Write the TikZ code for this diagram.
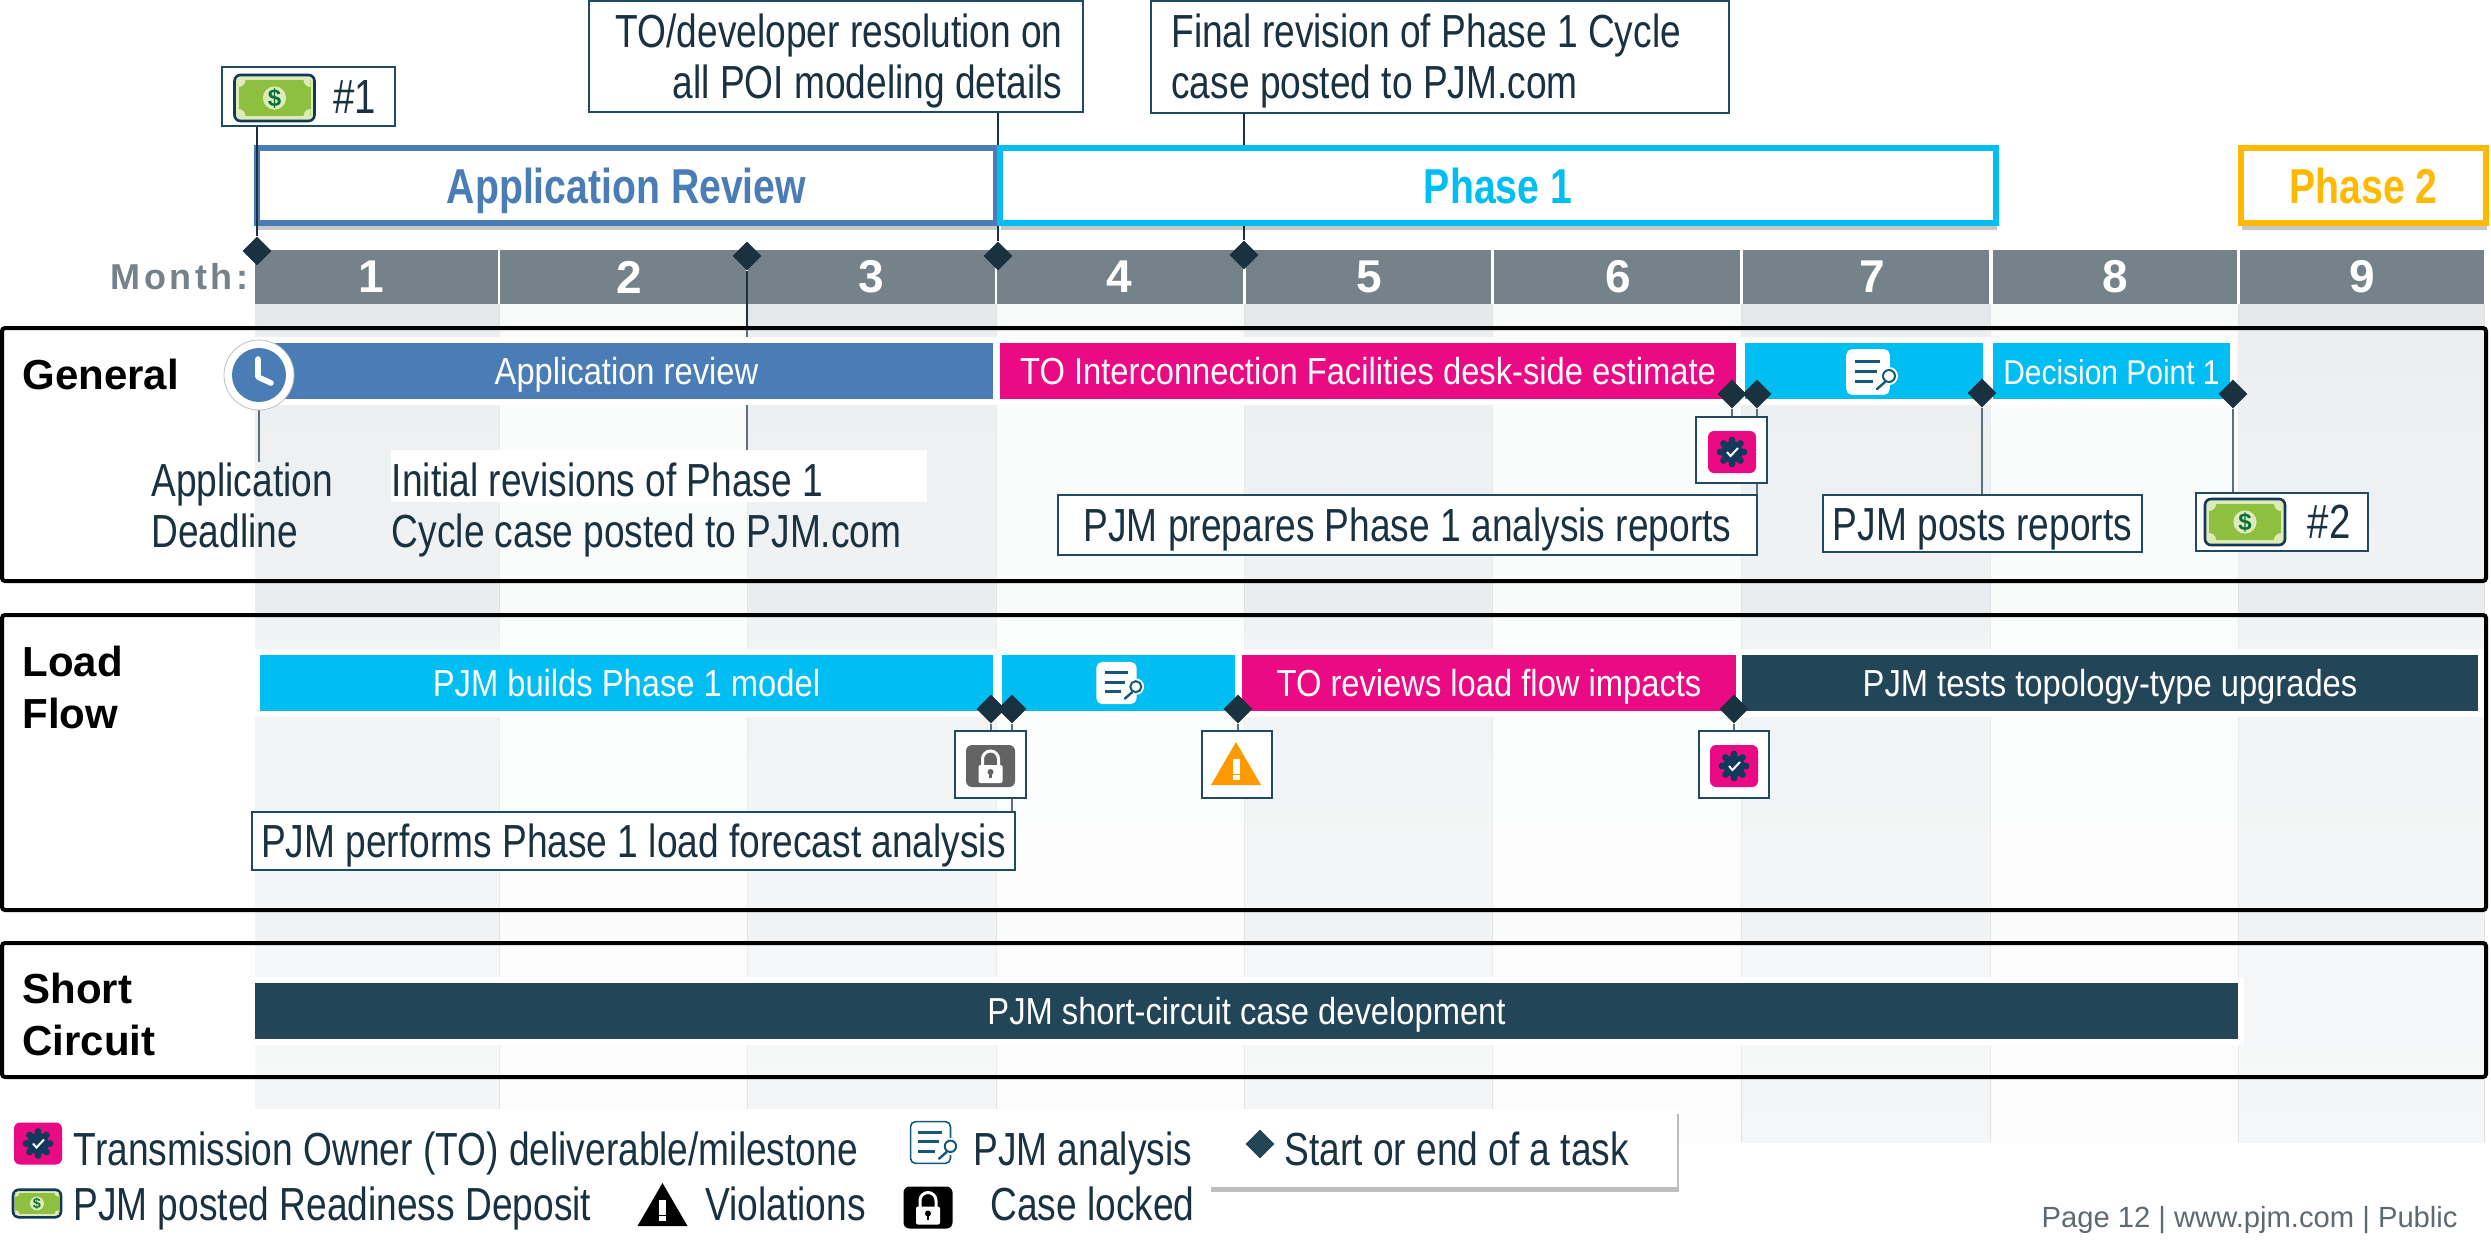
\documentclass[tikz,border=0pt]{standalone}
\usepackage{fontspec}
\setmainfont{Liberation Sans}[FakeStretch=0.8]
\newfontfamily\plainsans{Liberation Sans}
\newfontfamily\barsans{Liberation Sans}[FakeStretch=0.87]
\usetikzlibrary{shapes.geometric,shadows,backgrounds}

\definecolor{inkdark}{HTML}{1A3140}
\definecolor{monthgray}{HTML}{75828A}
\definecolor{appblue}{HTML}{4A7CB5}
\definecolor{phasecyan}{HTML}{00BDF2}
\definecolor{phaseamber}{HTML}{FFB900}
\definecolor{topink}{HTML}{E90A84}
\definecolor{pjmdark}{HTML}{234558}
\definecolor{boxedge}{HTML}{1F4A60}
\definecolor{gearblue}{HTML}{12395A}
\definecolor{docblue}{HTML}{14587C}
\definecolor{lockgray}{HTML}{636363}
\definecolor{warnorange}{HTML}{FF9900}
\definecolor{cashlight}{HTML}{DCEBB8}
\definecolor{cashgreen}{HTML}{8FBF3F}
\definecolor{cashink}{HTML}{0B6E3C}
\definecolor{footgray}{HTML}{5F6A70}
\definecolor{stripetop}{HTML}{E4E8EB}
\definecolor{stripelow}{HTML}{F5F6F7}
\definecolor{gaptop}{HTML}{F8FAFA}
\definecolor{gaplow}{HTML}{FCFCFC}
\definecolor{stripeline}{HTML}{E0E3E5}

\newcommand\calloutfont{\fontsize{23.2}{25.5}\selectfont}

\tikzset{
  phasebox/.style={draw=#1,text=#1,line width=3pt,fill=white,inner sep=0,
    text height=17.5pt,text depth=0pt,
    font=\fontsize{24.5}{26}\selectfont\bfseries,
    drop shadow={shadow xshift=.4pt,shadow yshift=-3.5pt,opacity=.22,fill=black}},
  taskbar/.style={fill=#1,text=white,inner sep=0,minimum height=28pt,
    preaction={draw=white,line width=6pt},text height=13.5pt,text depth=0pt,
    font=\barsans\fontsize{18.8}{20}\selectfont},
  taskmark/.style={diamond,aspect=1,fill=inkdark,inner sep=0,minimum size=14.5pt},
  callout/.style={draw=boxedge,line width=1pt,fill=white,text=inkdark,inner sep=0,font=\calloutfont},
  oneline/.style={text height=16.6pt,text depth=0pt},
  rowframe/.style={draw=black,line width=2pt,rounded corners=1.5pt,fill=white,fill opacity=.3,text opacity=1},
  rowlabel/.style={anchor=west,inner sep=0,align=left,text=black,
    font=\plainsans\bfseries\fontsize{21}{26}\selectfont},
  plainnote/.style={anchor=west,inner sep=0,align=left,text=inkdark,font=\calloutfont},
  link/.style={draw=inkdark,line width=1pt},
  pics/cashicon/.style={code={
    \draw[fill=cashlight,draw=gearblue,line width=1.3pt,rounded corners=3pt] (-40,-23) rectangle (40,23);
    \fill[cashgreen] (-36,-18) rectangle (36,18);
    \begin{scope}
    \clip (-36,-18) rectangle (36,18);
    \foreach \cx in {-36,36} \foreach \cy in {-18,18} \fill[cashlight] (\cx,\cy) circle (3.5pt);
    \end{scope}
    \fill[cashlight] (0,0) circle (5.8pt);
    \node[text=cashink,inner sep=0,transform shape,font=\plainsans\bfseries\fontsize{12}{12}\selectfont] (dollar) at (0,0) {\$};
  }},
  pics/gearicon/.style={code={
    \fill[topink,rounded corners=3pt] (-24,-21) rectangle (24,21);
    \fill[gearblue] (0,0) circle (5.5pt);
    \foreach \a in {0,45,...,315} \fill[gearblue] (\a:12) circle (1.7pt);
    \draw[white,line width=1pt] (-5,0) -- (-1.5,4) -- (6,-4);
  }},
  pics/lockicon/.style={code={
    \fill[#1,rounded corners=3pt] (-24.5,-21) rectangle (24.5,21);
    \draw[white,line width=1.5pt] (-8,0) -- (-8,-7) arc[start angle=180,end angle=0,radius=4pt] -- (8,0);
    \fill[white,rounded corners=1pt] (-12,-1) rectangle (12,17);
    \fill[#1] (0,6) circle (1.5pt);
    \fill[#1] (-1.2,6) rectangle (1.2,12);
  }},
  pics/warnicon/.style={code={
    \fill[#1] (0,-21.5) -- (25,21.5) -- (-25,21.5) -- cycle;
    \fill[white] (-3.5,-5) rectangle (3.5,10);
    \fill[white] (-3.5,11.5) rectangle (3.5,16.5);
  }},
  pics/docicon/.style={code={
    \draw[fill=white,draw=#1,line width=.8pt,rounded corners=2.5pt] (-21,-22) rectangle (21,22);
    \draw[docblue,line width=1.5pt] (-13,-11) -- (12,-11) (-13,-1) -- (9,-1) (-13,9) -- (5,9);
    \fill[white] (21,4) circle (4.5pt);
    \draw[docblue,line width=1pt] (21,4) circle (3pt);
    \draw[docblue,line width=1.2pt,line cap=round] (17,10) -- (9,17);
  }}
}

\begin{document}
\begin{tikzpicture}[x=.5pt,y=-.5pt]
\useasboundingbox (0,0) rectangle (2491,1239);

% month stripes
\begin{scope}[on background layer]
\foreach \xa/\xb in {255/499,747/996,1244/1492,1741/1990,2238/2484}
  \shade[top color=stripetop,bottom color=stripelow] (\xa,304) rectangle (\xb,1142);
\foreach \xa/\xb in {499/747,996/1244,1492/1741,1990/2238}
  \shade[top color=gaptop,bottom color=gaplow] (\xa,304) rectangle (\xb,1142);
\foreach \x in {499,747,996,1244,1492,1741,1990,2238,2484}
  \draw[stripeline,line width=.5pt] (\x,304) -- (\x,1142);
\foreach \n/\xa/\xb/\dx in {1/255/498/-2.5,2/500/746/3,3/748/995/0,4/997/1243/-.5,5/1246/1491/.5,6/1494/1740/.5,7/1743/1989/3,8/1993/2237/0,9/2240/2484/0}
  \fill[monthgray] (\xa,250) rectangle node[xshift=\dx pt,text=white,inner sep=0,font=\plainsans\bfseries\fontsize{23}{24}\selectfont] (m\n) {\n} (\xb,304);
\end{scope}
\node[anchor=east,inner sep=0,text=monthgray,font=\plainsans\bfseries\fontsize{18}{20}\selectfont\addfontfeature{LetterSpace=10}] (monthLabel) at (249,277) {Month:};

% phases
\node[phasebox=appblue,minimum width=369.5pt,minimum height=37.5pt] (phaseApp) at (626.5,185.5) {Application Review};
\node[phasebox=phasecyan,minimum width=498pt,minimum height=37.5pt] (phaseOne) at (1498,185.5) {Phase 1};
\node[phasebox=phaseamber,minimum width=122.5pt,minimum height=37.5pt] (phaseTwo) at (2363.5,185.5) {Phase 2};

% rows
\node[rowframe,minimum width=1242pt,minimum height=126.5pt] (generalFrame) at (1244,454.5) {};
\node[rowframe,minimum width=1242pt,minimum height=147.5pt] (loadFrame) at (1244,762.5) {};
\node[rowframe,minimum width=1242pt,minimum height=67pt] (shortFrame) at (1244,1010) {};
\node[rowlabel] (generalLabel) at (22,374) {General};
\node[rowlabel] (loadLabel) at (22,687) {Load\\Flow};
\node[rowlabel] (shortLabel) at (22,1014) {Short\\Circuit};

% bars
\node[taskbar=appblue,minimum width=366.5pt] (barApp) at (626.5,371) {Application review};
\node[taskbar=topink,minimum width=368pt] (barDesk) at (1368,371) {TO Interconnection Facilities desk-side estimate};
\node[taskbar=phasecyan,minimum width=119pt] (barGenReview) at (1864,371) {};
\node[taskbar=phasecyan,minimum width=118.5pt,font=\barsans\fontsize{17.2}{20}\selectfont] (barDecision) at (2111.5,371) {Decision Point 1};
\node[taskbar=phasecyan,minimum width=366.5pt] (barBuild) at (626.5,682.5) {PJM builds Phase 1 model};
\node[taskbar=phasecyan,minimum width=116.5pt] (barLoadReview) at (1118.5,682.5) {};
\node[taskbar=topink,minimum width=247pt] (barImpacts) at (1489,682.5) {TO reviews load flow impacts};
\node[taskbar=pjmdark,minimum width=368pt] (barTopology) at (2110,682.5) {PJM tests topology-type upgrades};
\node[taskbar=pjmdark,minimum width=991.5pt] (barShort) at (1246.5,1011) {PJM short-circuit case development};
\pic at (1868,372) {docicon=white};
\pic[scale=.92] at (1116.5,683) {docicon=white};

% clock
\node[circle,fill=white,draw=black!25,line width=.4pt,inner sep=0,minimum size=35pt] (clock) at (259,375) {};
\fill[appblue] (clock) circle (13.5pt);
\draw[white,line width=2.8pt,line cap=round,line join=round] (258,359) -- (258,377) -- (271,383);

% callouts
\node[callout,minimum width=247pt,minimum height=55.5pt] (resolutionBox) at (836,56.5) {};
\node[plainnote,anchor=east,align=right] (resolutionText) at (1063,61) {TO/developer resolution on\\all POI modeling details};
\node[callout,minimum width=289pt,minimum height=56pt] (finalBox) at (1440,57) {};
\node[plainnote] (finalText) at (1171,61) {Final revision of Phase 1 Cycle\\case posted to PJM.com};
\node[callout,minimum width=86.5pt,minimum height=29.5pt] (cashOne) at (308.5,96.5) {};
\node[callout,minimum width=86pt,minimum height=29pt] (cashTwo) at (2282,522) {};
\pic at (274.5,98) {cashicon};
\pic at (2245,522) {cashicon};
\node[inner sep=0,text=inkdark,font=\fontsize{24}{26}\selectfont] (cashOneText) at (355,97) {\#1};
\node[inner sep=0,text=inkdark,font=\fontsize{24}{26}\selectfont] (cashTwoText) at (2329,522) {\#2};
\node[plainnote] (deadlineNote) at (151,505) {Application\\Deadline};
\node[fill=white,inner sep=0,minimum width=268pt,minimum height=26pt] (initPatch) at (659,476) {};
\node[plainnote] (initNote) at (391.5,510) {Initial revisions of Phase 1\\Cycle case posted to PJM.com};
\node[callout,minimum width=35.5pt,minimum height=33pt] (gearBoxA) at (1731.5,450) {};
\pic at (1732,452) {gearicon};
\node[callout,oneline,minimum width=349.5pt,minimum height=30pt] (reportsBox) at (1407.5,525) {PJM prepares Phase 1 analysis reports};
\node[callout,oneline,minimum width=159.5pt,minimum height=28.5pt] (postsBox) at (1982.5,523.5) {PJM posts reports};
\node[callout,minimum width=35.5pt,minimum height=33.5pt] (lockBox) at (990.5,764.5) {};
\pic at (990.5,766) {lockicon=lockgray};
\node[callout,minimum width=35pt,minimum height=33.5pt] (warnBox) at (1237,764.5) {};
\pic at (1236,763.5) {warnicon=warnorange};
\node[callout,minimum width=35pt,minimum height=33.5pt] (gearBoxB) at (1733.5,764.5) {};
\pic at (1734,766) {gearicon};
\node[callout,oneline,minimum width=381.5pt,minimum height=29pt] (forecastBox) at (633.5,840.5) {PJM performs Phase 1 load forecast analysis};

% task marks
\foreach \n/\x/\y in {A/257/251,B/747/256,C/998/256,D/1244/255,E/1732/394,F/1757/394,G/1982/393,H/2233/394,J/991/709,K/1012/709,L/1238/709,M/1734/709}
  \node[taskmark] (d\n) at (\x,\y) {};

% links
\draw[link] (dA) -- (dA |- cashOne.south);
\begin{scope}[on background layer]
\draw[link] (dC) -- (dC |- resolutionBox.south);
\draw[link] (dD) -- (dD |- finalBox.south);
\draw[link] (clock) -- (clock |- deadlineNote.north);
\draw[link] (dB) -- (dB |- initPatch.north);
\draw[link] (dE) -- (dE |- gearBoxA.north);
\draw[link] (dF) -- (dF |- reportsBox.north);
\draw[link] (dG) -- (dG |- postsBox.north);
\draw[link] (dH) -- (dH |- cashTwo.north);
\draw[link] (dJ) -- (dJ |- lockBox.north);
\draw[link] (dK) -- (dK |- forecastBox.north);
\draw[link] (dL) -- (dL |- warnBox.north);
\draw[link] (dM) -- (dM |- gearBoxB.north);
\end{scope}

% legend
\node[fill=white,inner sep=0,minimum width=838.5pt,minimum height=39pt,
  drop shadow={shadow xshift=1pt,shadow yshift=-2.5pt,opacity=.25,fill=black}] (legendBox) at (838.5,1148) {};
\fill[white] (0,1187) rectangle (1211,1239);
\pic at (38,1143.5) {gearicon};
\pic[scale=.6] at (37,1203.5) {cashicon};
\pic[scale=.95] at (930.5,1142.5) {docicon=docblue};
\pic at (662.5,1204.5) {warnicon=black};
\pic at (928,1207.5) {lockicon=black};
\node[taskmark,fill=pjmdark] (legendMark) at (1260,1144) {};
\node[plainnote,oneline] (legendTO) at (73.5,1149) {Transmission Owner (TO) deliverable/milestone};
\node[plainnote,oneline] (legendAnalysis) at (973,1149) {PJM analysis};
\node[plainnote,oneline] (legendTask) at (1284,1149) {Start or end of a task};
\node[plainnote,oneline] (legendCash) at (73,1204) {PJM posted Readiness Deposit};
\node[plainnote,oneline] (legendViolations) at (705,1204) {Violations};
\node[plainnote,oneline] (legendLocked) at (990,1204) {Case locked};

\node[anchor=east,inner sep=0,text=footgray,font=\plainsans\fontsize{14.6}{16}\selectfont] (pageNote) at (2458,1220) {Page 12 | www.pjm.com | Public};
\end{tikzpicture}
\end{document}
